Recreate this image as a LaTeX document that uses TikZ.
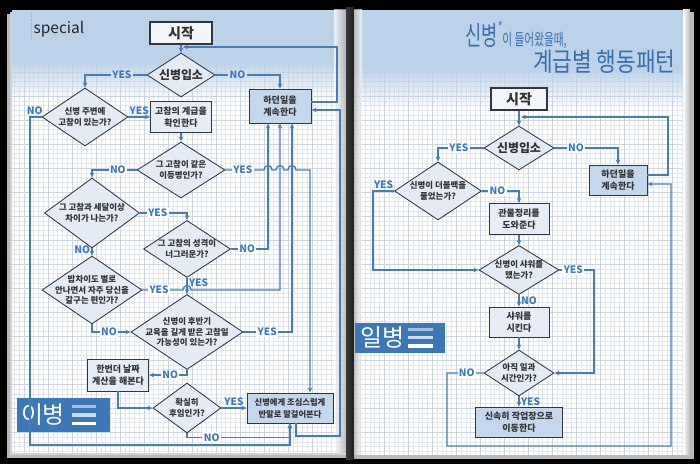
\documentclass[tikz,border=0pt]{standalone}
\usepackage{fontspec}
\setmainfont{Noto Sans CJK KR}
\newfontfamily\titlefont[FakeStretch=0.82]{Noto Sans CJK KR}
\newfontfamily\titlefontA[FakeStretch=0.66]{Noto Sans CJK KR}
\usepackage{tikz}
\usetikzlibrary{positioning,arrows.meta,shapes.geometric,fadings}
\definecolor{colLinea}{HTML}{4B7BB5}
\definecolor{colBorde}{HTML}{2F3640}
\definecolor{colCaja}{HTML}{E6EDF6}
\definecolor{colCajaOscura}{HTML}{C5D7EC}
\definecolor{colRombo}{HTML}{E4EBF5}
\definecolor{colInicio}{HTML}{F3F5F9}
\definecolor{colEtiqueta}{HTML}{3F78BE}
\definecolor{colBanda}{HTML}{BCD2E8}
\definecolor{colRejilla}{HTML}{E2E7EE}
\definecolor{colRejillaB}{HTML}{CBD5E1}
\definecolor{colTitulo}{HTML}{3A6FAD}
\definecolor{colMarca}{HTML}{3C77B8}
\colorlet{colBandaClara}{colBanda!62!white}
\tikzfading[name=bajada, top color=transparent!0, bottom color=transparent!100]

\begin{document}
\begin{tikzpicture}[x=0.025cm, y=-0.025cm, >={Stealth[length=3.6pt,width=3.2pt]}, line width=0.9pt,
    flujo/.style={->, draw=colLinea, line width=0.9pt},
    caja/.style 2 args={draw=colBorde, line width=0.6pt, fill=colCaja, align=center, inner sep=0pt,
        minimum width=#1*0.025cm, minimum height=#2*0.025cm,
        font=\bfseries\fontsize{6.4}{8.6}\selectfont, text=black!80},
    rombo/.style 2 args={shape=diamond, draw=colBorde, line width=0.6pt, fill=colRombo, align=center,
        inner xsep=-8pt, inner ysep=-3pt,
        /utils/exec={\pgfmathsetmacro\proporcion{#1/#2}}, aspect=\proporcion,
        minimum width=#1*0.025cm, minimum height=#2*0.025cm,
        font=\bfseries\fontsize{6}{7.6}\selectfont, text=black!80},
    etiq/.style={text=colEtiqueta, font=\bfseries\fontsize{7.2}{8}\selectfont, fill=white, inner sep=1pt}]

    % Fondo y paginas
    \useasboundingbox (0,0) rectangle (700,464);
    \fill[black] (0,0) rectangle (700,464);
    \fill[gray!55] (7,14) rectangle (346,458);
    \fill[gray!35] (10,12) rectangle (346,455);
    \fill[white] (12,10) rectangle (346,453);
    \fill[gray!55] (354,12) rectangle (694,459);
    \fill[white] (354,10) rectangle (690,455);

    % Rejilla
    \draw[colRejilla, line width=0.25pt, step=0.12cm] (12,453) grid (346,10);
    \draw[colRejillaB, line width=0.3pt, step=0.6cm] (12,453) grid (346,10);
    \draw[colRejilla, line width=0.25pt, step=0.12cm] (354,455) grid (690,10);
    \draw[colRejillaB, line width=0.3pt, step=0.6cm] (354,455) grid (690,10);

    % Banda azul
    \fill[colBanda] (12,10) rectangle (346,60);
    \fill[colBanda, path fading=bajada] (12,60) rectangle (346,100);
    \fill[colBanda] (354,10) rectangle (690,68);
    \fill[colBanda, path fading=bajada] (354,68) rectangle (690,108);

    % Lomo
    \shade[left color=white, right color=gray!70, opacity=0.7] (334,10) rectangle (346,453);
    \shade[left color=gray!45!black, right color=gray!25!black] (346,8) rectangle (354,460);
    \shade[left color=gray!60, right color=white, opacity=0.7] (354,10) rectangle (362,455);
    \shade[left color=white, right color=gray!55] (683,10) rectangle (690,455);

    % Cabeceras
    \draw[gray!70, densely dotted, line width=0.5pt] (31,12) -- (31,40);
    \node[anchor=base west, inner sep=0pt, font=\fontsize{11}{11}\selectfont, text=black!85] (specialL) at (33,34) {special};
    \node[anchor=base west, inner sep=0pt, text=colTitulo] (titA) at (465,46)
        {\titlefontA\fontsize{19}{19}\selectfont 신병\raisebox{0.5em}{\fontsize{10}{10}\selectfont *}\fontsize{11.5}{12}\selectfont 이 들어왔을때,};
    \node[anchor=base east, inner sep=0pt, text=colTitulo] (titB) at (676,72)
        {\titlefont\fontsize{18.5}{18.5}\selectfont 계급별 행동패턴};

    % Marcas de rango
    \fill[colMarca] (17,398) rectangle (110,432);
    \node[text=white, font=\fontsize{17}{17}\selectfont] (tagL) at (43,415) {이병};
    \fill[white!55!colMarca] (72,405) rectangle (96,408.5);
    \fill[white!75!colMarca] (72,413.5) rectangle (96,417);
    \fill[white] (72,422) rectangle (96,425.5);
    \fill[colMarca] (355,323) rectangle (445,353);
    \node[text=white, font=\fontsize{17}{17}\selectfont] (tagR) at (382,338) {일병};
    \fill[white!55!colMarca] (408,328) rectangle (433,331.5);
    \fill[white!75!colMarca] (408,336) rectangle (433,339.5);
    \fill[white] (408,344.5) rectangle (433,348);

    % Pagina izquierda: nodos
    \node[caja={62}{22}, fill=colInicio, line width=1pt, font=\bfseries\fontsize{10}{11}\selectfont] (startL) at (181,33) {시작};
    \node[rombo={68}{44}, font=\bfseries\fontsize{8.5}{9}\selectfont] (inL) at (181,75) {신병입소};
    \node[caja={62}{34}, fill=colCajaOscura] (keepL) at (280,106) {하던일을\\계속한다};
    \node[rombo={86}{58}] (nearL) at (85,117) {신병 주변에\\고참이 있는가?};
    \node[caja={61}{31}] (rankL) at (181,117) {고참의 계급을\\확인한다};
    \node[rombo={88}{56}] (sameL) at (181,170) {그 고참이 같은\\이등병인가?};
    \node[rombo={95}{70}] (gapL) at (92,213) {그 고참과 세달이상\\차이가 나는가?};
    \node[rombo={87}{57}] (kindL) at (187,249) {그 고참의 성격이\\너그러운가?};
    \node[rombo={100}{68}] (nagL) at (92,290) {밥차이도 별로\\안나면서 자주 당신을\\갈구는 편인가?};
    \node[rombo={112}{75}] (lateL) at (187,332) {신병이 후반기\\교육을 길게 받은 고참일\\가능성이 있는가?};
    \node[caja={61}{32}] (recountL) at (118,375) {한번더 날짜\\계산을 해본다};
    \node[rombo={68}{50}] (sureL) at (187,408) {확실히\\후임인가?};
    \node[caja={86}{30}, fill=colCajaOscura, font=\bfseries\fontsize{5.9}{8.4}\selectfont] (talkL) at (290,408) {신병에게 조심스럽게\\반말로 말걸어본다};

    % Pagina izquierda: conectores
    \coordinate (backL) at (183,47);
    \draw[flujo] (startL) -- (inL);
    \draw[flujo] (inL.west) -| node[etiq, fill=colBandaClara, pos=0.2] {YES} (nearL.north);
    \draw[flujo] (inL.east) -| node[etiq, fill=colBandaClara, pos=0.17] {NO} (keepL.north);
    \draw[flujo] ([yshift=0.1cm]keepL.east) -| (337,47) -- (backL);
    \draw[flujo] (nearL.east) -- node[etiq, above, fill=none] {YES} (rankL.west);
    \draw[flujo] (nearL.west) -| node[etiq, above, fill=none, pos=0.3] {NO} (30,445) -| (talkL.south);
    \draw[flujo] (rankL) -- (sameL);
    \draw[flujo] (sameL.west) -| node[etiq, pos=0.21] {NO} (gapL.north);
    \draw[flujo] (sameL.east) -- node[etiq, pos=0.45] {YES} (264,170)
        .. controls (264,164) and (272,164) .. (272,170) -- (276,170)
        .. controls (276,164) and (284,164) .. (284,170) -- (288,170)
        .. controls (288,164) and (296,164) .. (296,170) -- (310,170)
        -- ([xshift=0.5cm]talkL.north);
    \draw[flujo] (gapL.east) -| node[etiq, pos=0.19] {YES} (kindL.north);
    \draw[flujo] (kindL.east) -| node[etiq, pos=0.22] {NO} ([xshift=-0.3cm]keepL.south);
    \draw[flujo] (kindL.south) -- node[etiq, right, fill=none, pos=0.3] {YES} (lateL.north);
    \draw[flujo] (gapL.south) -- node[etiq, left, fill=none, pos=0.2] {NO} (nagL.north);
    \draw[flujo] (nagL.east) -- node[etiq, pos=0.41] {YES} (183,290)
        .. controls (183,284) and (191,284) .. (191,290) -| (keepL.south);
    \draw[flujo] (nagL.south) |- node[etiq, pos=0.72] {NO} (lateL.west);
    \draw[flujo] (lateL.east) -| node[etiq, pos=0.245] {YES} ([xshift=0.3cm]keepL.south);
    \draw[flujo] (lateL.south) |- node[etiq, pos=0.72] {NO} (recountL.east);
    \draw[flujo] (recountL.south) |- (sureL.west);
    \draw[flujo] (sureL.east) -- node[etiq, above, fill=none] {YES} (talkL.west);
    \draw[flujo] (sureL.south) -- ++(0,4) -| node[etiq, pos=0.12] {NO} (talkL.south);
    \draw[flujo] ([xshift=0.15cm]talkL.south) |- (340,436) |- ([yshift=-0.1cm]keepL.east);

    % Pagina derecha: nodos
    \node[caja={56}{22}, fill=colInicio, line width=1pt, font=\bfseries\fontsize{10}{11}\selectfont] (startR) at (519,99) {시작};
    \node[rombo={70}{44}, font=\bfseries\fontsize{8.5}{9}\selectfont] (inR) at (519,148) {신병입소};
    \node[caja={58}{30}, fill=colCajaOscura] (keepR) at (618,180) {하던일을\\계속한다};
    \node[rombo={87}{58}] (bagR) at (438,191) {신병이 더블백을\\풀었는가?};
    \node[caja={60}{31}] (helpR) at (519,219) {관물정리를\\도와준다};
    \node[rombo={80}{49}] (showerR) at (519,270) {신병이 샤워를\\했는가?};
    \node[caja={60}{30}] (doShowerR) at (519,322) {샤워를\\시킨다};
    \node[rombo={70}{46}] (timeR) at (519,373) {아직 일과\\시간인가?};
    \node[caja={87}{30}, fill=colCajaOscura] (goR) at (519,422) {신속히 작업장으로\\이동한다};

    % Pagina derecha: conectores
    \coordinate (backR) at (521,117);
    \draw[flujo] (startR) -- (inR);
    \draw[flujo] ([yshift=0.125cm]keepR.east) -| (668,117) -- (backR);
    \draw[flujo] (inR.west) -| node[etiq, pos=0.27] {YES} (bagR.north);
    \draw[flujo] (inR.east) -| node[etiq, pos=0.17] {NO} (keepR.north);
    \draw[flujo] (bagR.west) -- node[etiq, above, fill=none] {YES} (373,191) |- (showerR.west);
    \draw[flujo] (bagR.east) -| node[etiq, pos=0.21] {NO} (helpR.north);
    \draw[flujo] (helpR) -- (showerR);
    \draw[flujo] (showerR.east) -| node[etiq, pos=0.2] {YES} (594,373) -- (timeR.east);
    \draw[flujo] (showerR.south) -- node[etiq, right, fill=none] {NO} (doShowerR.north);
    \draw[flujo] (doShowerR) -- (timeR);
    \draw[flujo] (timeR.west) -| node[etiq, pos=0.23] {NO} (447,446) -| (671,184) -- ([yshift=-0.1cm]keepR.east);
    \draw[flujo] (timeR.south) -- node[etiq, right, fill=none] {YES} (goR.north);
\end{tikzpicture}
\end{document}
